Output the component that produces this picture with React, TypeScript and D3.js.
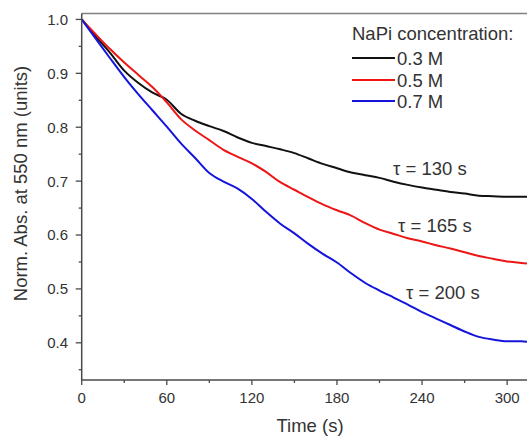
import React from 'react'
import * as d3 from 'd3'

// time axis (s)
const times = [0, 10, 20, 30, 40, 50, 60, 70, 80, 90, 100, 110, 120, 130, 140, 150, 160,
  170, 180, 190, 200, 210, 220, 230, 240, 250, 260, 270, 280, 290, 300, 310, 314]

// normalised absorbance
const napi03 = [1.0, 0.968, 0.938, 0.905, 0.882, 0.864, 0.851, 0.825, 0.812, 0.802, 0.793,
  0.781, 0.771, 0.765, 0.759, 0.752, 0.742, 0.732, 0.724, 0.716, 0.711, 0.706, 0.699,
  0.693, 0.688, 0.684, 0.68, 0.677, 0.673, 0.672, 0.671, 0.671, 0.671]
const napi05 = [1.0, 0.972, 0.945, 0.92, 0.897, 0.874, 0.846, 0.815, 0.794, 0.776, 0.758,
  0.745, 0.733, 0.717, 0.698, 0.684, 0.67, 0.657, 0.646, 0.636, 0.622, 0.61, 0.602,
  0.594, 0.588, 0.581, 0.575, 0.568, 0.561, 0.556, 0.551, 0.548, 0.547]
const napi07 = [1.0, 0.964, 0.928, 0.893, 0.861, 0.831, 0.801, 0.77, 0.743, 0.715, 0.699,
  0.686, 0.667, 0.643, 0.621, 0.603, 0.583, 0.565, 0.549, 0.529, 0.511, 0.497, 0.484,
  0.471, 0.457, 0.445, 0.433, 0.421, 0.411, 0.406, 0.403, 0.403, 0.402]

const seriesNames = ['0.3 M', '0.5 M', '0.7 M']
const seriesValues = [napi03, napi05, napi07]
const tauLabels = ['τ = 130 s', 'τ = 165 s', 'τ = 200 s']

const xMajor = [0, 60, 120, 180, 240, 300]
const xMinor = [30, 90, 150, 210, 270]
const yMajor = [0.4, 0.5, 0.6, 0.7, 0.8, 0.9, 1.0]
const yMinor = [0.35, 0.45, 0.55, 0.65, 0.75, 0.85, 0.95]

const W = 527, H = 437
const left = 81.7, right = 527, top = 13.5, bottom = 380
const colors = ['#111111', '#ee1515', '#1414dd']
const font = '"Liberation Sans", Arial, sans-serif'
const axisColor = '#4a4a4a'
const textColor = '#333'

export default function App() {
  const x = d3.scaleLinear().domain([0, 314]).range([left, right])
  const y = d3.scaleLinear().domain([0.331, 1.011]).range([bottom, top])

  // smooth, the measured traces have no sharp corners
  const line = d3.line<number>()
    .x((d, i) => x(times[i]))
    .y(d => y(d))
    .curve(d3.curveMonotoneX)

  // legend + tau positions
  const legX = 352, legY = [58, 80, 101]
  const tauPos = [[393, 175], [398, 232], [406, 299]]

  return (
    <div style={{ position: 'absolute', left: 0, top: 0 }}>
      <svg width={W} height={H} style={{ display: 'block', background: '#fff' }}>
        {/* plot lines */}
        <g fill="none" strokeWidth={2} strokeLinejoin="round">
          {seriesValues.map((vals, i) => (
            <path key={i} d={line(vals) || ''} stroke={colors[i]} />
          ))}
        </g>

        {/* frame top */}
        <line x1={left} x2={right} y1={top} y2={top} stroke="#808080" strokeWidth={1.5} />

        {/* y axis */}
        <line x1={left} x2={left} y1={top} y2={bottom} stroke={axisColor} strokeWidth={1.5} />
        {yMajor.map(v => (
          <g key={v}>
            <line x1={left - 6} x2={left} y1={y(v)} y2={y(v)} stroke={axisColor} strokeWidth={1.3} />
            <text x={68} y={y(v) + 5.4} textAnchor="end" fontFamily={font} fontSize={15} fill={textColor}>
              {d3.format('.1f')(v)}
            </text>
          </g>
        ))}
        {yMinor.map(v => (
          <line key={v} x1={left - 3} x2={left} y1={y(v)} y2={y(v)} stroke={axisColor} strokeWidth={1.3} />
        ))}

        {/* x axis */}
        <line x1={left} x2={right} y1={bottom} y2={bottom} stroke={axisColor} strokeWidth={1.5} />
        {xMajor.map(v => (
          <g key={v}>
            <line x1={x(v)} x2={x(v)} y1={bottom} y2={bottom + 5} stroke={axisColor} strokeWidth={1.3} />
            <text x={x(v)} y={403} textAnchor="middle" fontFamily={font} fontSize={15} fill={textColor}>
              {v}
            </text>
          </g>
        ))}
        {xMinor.map(v => (
          <line key={v} x1={x(v)} x2={x(v)} y1={bottom} y2={bottom + 3} stroke={axisColor} strokeWidth={1.3} />
        ))}

        {/* axis titles */}
        <text x={310} y={432} textAnchor="middle" fontFamily={font} fontSize={18.5} fill={textColor}>
          Time (s)
        </text>
        <text transform="translate(27,183.5) rotate(-90)" textAnchor="middle" fontFamily={font}
          fontSize={18.5} fill={textColor}>
          Norm. Abs. at 550 nm (units)
        </text>

        {/* legend */}
        <text x={legX} y={40} fontFamily={font} fontSize={18.5} fill={textColor}>NaPi concentration:</text>
        {seriesNames.map((name, i) => (
          <g key={name}>
            <line x1={legX} x2={legX + 43} y1={legY[i]} y2={legY[i]} stroke={colors[i]} strokeWidth={2} />
            <text x={legX + 45} y={legY[i] + 6.8} fontFamily={font} fontSize={18.5} fill={textColor}>{name}</text>
          </g>
        ))}

        {/* time constants */}
        {tauLabels.map((t, i) => (
          <text key={t} x={tauPos[i][0]} y={tauPos[i][1]} fontFamily={font} fontSize={18.5} fill={textColor}>{t}</text>
        ))}
      </svg>
    </div>
  )
}
